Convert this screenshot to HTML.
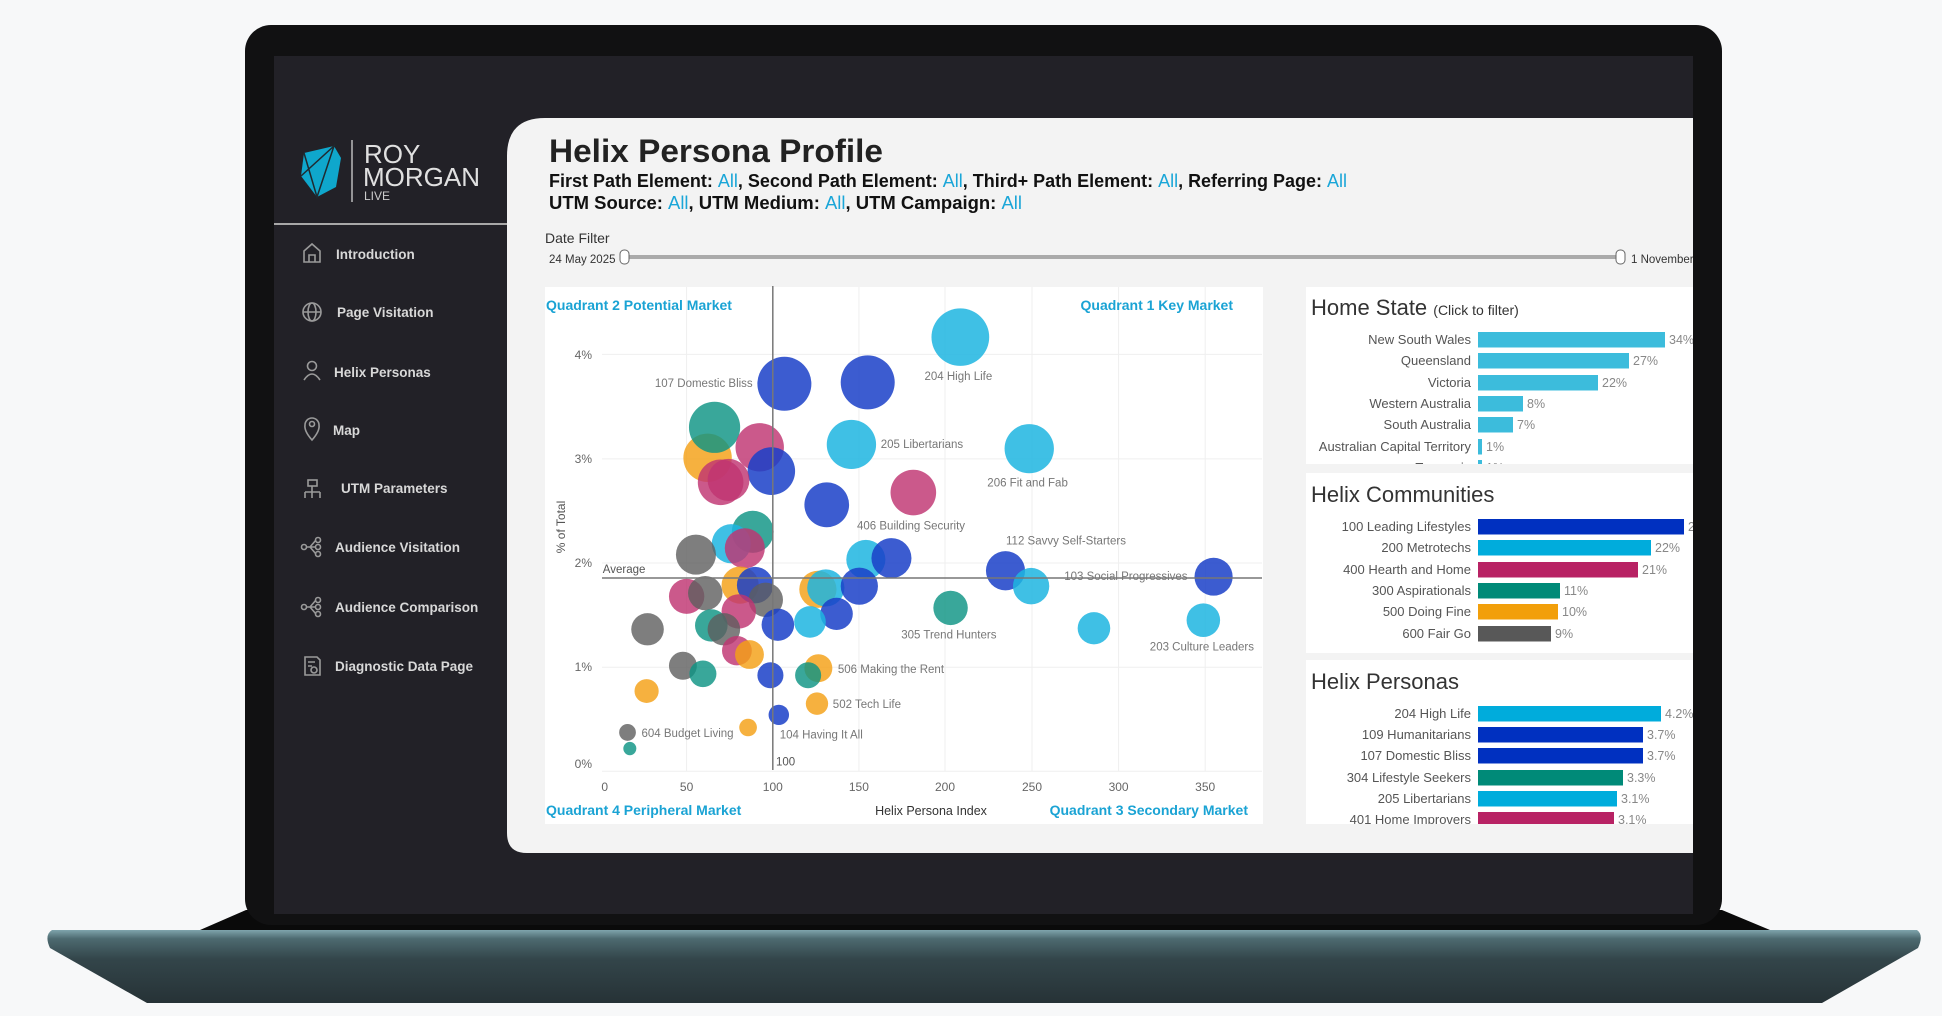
<!DOCTYPE html>
<html><head><meta charset="utf-8"><style>
html,body{margin:0;padding:0;background:#f7f8f9;}
svg{display:block;font-family:"Liberation Sans",sans-serif;}
.lb{fill:#1db5e0;fill-opacity:.85}.db{fill:#1a3fc8;fill-opacity:.85}.te{fill:#0d9484;fill-opacity:.82}
.pk{fill:#bf3472;fill-opacity:.82}.or{fill:#f4a015;fill-opacity:.82}.gr{fill:#5e5e5e;fill-opacity:.8}
</style></head><body>
<svg width="1942" height="1016" viewBox="0 0 1942 1016" xmlns="http://www.w3.org/2000/svg">
<defs>
<linearGradient id="base" x1="0" y1="0" x2="0" y2="1">
<stop offset="0" stop-color="#7fa4ac"/><stop offset="0.12" stop-color="#4d6a70"/><stop offset="0.4" stop-color="#33454a"/><stop offset="1" stop-color="#263236"/>
</linearGradient>
<clipPath id="scr"><rect x="274" y="56" width="1419" height="858"/></clipPath>
<clipPath id="c1"><rect x="1306" y="287" width="387" height="177"/></clipPath>
<clipPath id="c3"><rect x="1306" y="660" width="387" height="164"/></clipPath>
</defs>
<rect width="1942" height="1016" fill="#f7f8f9"/>
<polygon points="200,930 246,910 1722,910 1770,930" fill="#0a0a0a"/>
<path d="M52,930 L1917,930 Q1924,935 1918,948 L1822,1003 L147,1003 L50,948 Q44,935 52,930 Z" fill="url(#base)"/>
<rect x="245" y="25" width="1477" height="900" rx="26" fill="#111112"/>
<rect x="274" y="56" width="1419" height="858" fill="#222127"/>
<g clip-path="url(#scr)">
<polygon points="304,153 334,146 341,158 336,187 317,197 301,176" fill="#0fa7cc"/>
<polyline points="304,153 317,197 334,146 301,176" fill="none" stroke="#1f2a30" stroke-width="1.5"/>
<line x1="352" y1="140" x2="352" y2="202" stroke="#bbb" stroke-width="1.5"/>
<text x="364" y="163" font-size="26" fill="#e0e0e0">ROY</text>
<text x="363" y="186" font-size="26" fill="#e0e0e0">MORGAN</text>
<text x="364" y="200" font-size="12" fill="#ccc">LIVE</text>
<line x1="274" y1="224" x2="507" y2="224" stroke="#a8a8a8" stroke-width="2"/>
<g fill="none" stroke="#9a9a9a" stroke-width="1.6">
<path d="M304,262 L304,251 L312,244 L320,251 L320,262 Z M309,262 V255 H315 V262"/>
<circle cx="312" cy="312" r="9"/><ellipse cx="312" cy="312" rx="4" ry="9"/><line x1="303" y1="312" x2="321" y2="312"/>
<circle cx="312" cy="366" r="4.5"/><path d="M304,380 Q312,368 320,380"/>
<path d="M312,440 Q304,431 305,425 A7,7 0 1 1 319,425 Q320,431 312,440 Z"/><circle cx="312" cy="424" r="2.5"/>
<rect x="308" y="480" width="9" height="6"/><path d="M312,486 V492 M305,492 H320 M305,492 V498 M312,492 V498 M320,492 V498"/>
<circle cx="304" cy="547" r="2.5"/><circle cx="318" cy="540" r="2.5"/><circle cx="318" cy="547" r="2.5"/><circle cx="318" cy="554" r="2.5"/><path d="M306,547 H316 M310,547 L316,540 M310,547 L316,554"/>
<circle cx="304" cy="607" r="2.5"/><circle cx="318" cy="600" r="2.5"/><circle cx="318" cy="607" r="2.5"/><circle cx="318" cy="614" r="2.5"/><path d="M306,607 H316 M310,607 L316,600 M310,607 L316,614"/>
<path d="M305,657 H317 L320,660 V675 H305 Z"/><circle cx="314" cy="670" r="3"/><path d="M308,662 H315 M308,666 H312"/>
</g>
<g font-size="13.5" font-weight="bold" fill="#d8d8d8">
<text x="336" y="259">Introduction</text>
<text x="337" y="317">Page Visitation</text>
<text x="334" y="377">Helix Personas</text>
<text x="333" y="435">Map</text>
<text x="341" y="493">UTM Parameters</text>
<text x="335" y="552">Audience Visitation</text>
<text x="335" y="612">Audience Comparison</text>
<text x="335" y="671">Diagnostic Data Page</text>
</g>
<path d="M545,118 H1693 V853 H527 Q507,853 507,833 V156 Q507,118 545,118 Z" fill="#f3f3f3"/>
<text x="549" y="162" font-size="32" font-weight="bold" fill="#222" textLength="334" lengthAdjust="spacingAndGlyphs">Helix Persona Profile</text>
<g font-size="18" font-weight="bold" fill="#111">
<text x="549" y="187" textLength="798" lengthAdjust="spacingAndGlyphs">First Path Element: <tspan fill="#1aa6d8" font-weight="normal">All</tspan>, Second Path Element: <tspan fill="#1aa6d8" font-weight="normal">All</tspan>, Third+ Path Element: <tspan fill="#1aa6d8" font-weight="normal">All</tspan>, Referring Page: <tspan fill="#1aa6d8" font-weight="normal">All</tspan></text>
<text x="549" y="209" textLength="473" lengthAdjust="spacingAndGlyphs">UTM Source: <tspan fill="#1aa6d8" font-weight="normal">All</tspan>, UTM Medium: <tspan fill="#1aa6d8" font-weight="normal">All</tspan>, UTM Campaign: <tspan fill="#1aa6d8" font-weight="normal">All</tspan></text>
</g>
<text x="545" y="243" font-size="14" fill="#333">Date Filter</text>
<text x="549" y="263" font-size="11.5" fill="#333">24 May 2025</text>
<rect x="624" y="255" width="997" height="4" fill="#aaa"/>
<rect x="620" y="250" width="9" height="14" rx="4" fill="#fff" stroke="#666"/>
<rect x="1616" y="250" width="9" height="14" rx="4" fill="#fff" stroke="#666"/>
<text x="1631" y="263" font-size="11.5" fill="#333">1 November 2025</text>
<rect x="545" y="287" width="718" height="537" fill="#fff"/>
<g stroke="#efefef" stroke-width="1">
<line x1="602" y1="354.4" x2="1262" y2="354.4"/><line x1="602" y1="458.9" x2="1262" y2="458.9"/><line x1="602" y1="563" x2="1262" y2="563"/><line x1="602" y1="667.2" x2="1262" y2="667.2"/><line x1="602" y1="771.3" x2="1262" y2="771.3"/>
<line x1="686.6" y1="287" x2="686.6" y2="771"/><line x1="858.9" y1="287" x2="858.9" y2="771"/><line x1="945" y1="287" x2="945" y2="771"/><line x1="1032" y1="287" x2="1032" y2="771"/><line x1="1118.6" y1="287" x2="1118.6" y2="771"/><line x1="1205.2" y1="287" x2="1205.2" y2="771"/>
</g>
<g font-size="12" fill="#666" text-anchor="end">
<text x="592" y="359">4%</text><text x="592" y="463">3%</text><text x="592" y="567">2%</text><text x="592" y="671">1%</text><text x="592" y="768">0%</text>
</g>
<g font-size="12" fill="#666" text-anchor="middle">
<text x="604.7" y="791">0</text><text x="686.6" y="791">50</text><text x="772.8" y="791">100</text><text x="858.9" y="791">150</text><text x="945" y="791">200</text><text x="1032" y="791">250</text><text x="1118.6" y="791">300</text><text x="1205.2" y="791">350</text>
</g>
<text transform="translate(565,527) rotate(-90)" font-size="12" fill="#555" text-anchor="middle">% of Total</text>
<g transform="translate(540,280) scale(0.4655,0.3507)">
<ellipse class="lb" cx="903" cy="163" rx="62" ry="82"/>
<ellipse class="db" cx="525" cy="296" rx="58" ry="77"/>
<ellipse class="db" cx="704" cy="292" rx="58" ry="77"/>
<ellipse class="or" cx="360" cy="507" rx="52" ry="69"/>
<ellipse class="te" cx="375" cy="420" rx="55" ry="73"/>
<ellipse class="lb" cx="669" cy="469" rx="53" ry="70"/>
<ellipse class="lb" cx="1051" cy="481" rx="53" ry="70"/>
<ellipse class="pk" cx="472" cy="477" rx="52" ry="69"/>
<ellipse class="db" cx="497" cy="545" rx="51" ry="68"/>
<ellipse class="pk" cx="388" cy="577" rx="49" ry="65"/>
<ellipse class="pk" cx="802" cy="606" rx="49" ry="65"/>
<ellipse class="db" cx="616" cy="641" rx="48" ry="64"/>
<ellipse class="pk" cx="405" cy="570" rx="45" ry="60"/>
<ellipse class="te" cx="457" cy="718" rx="45" ry="60"/>
<ellipse class="lb" cx="411" cy="752" rx="42" ry="56"/>
<ellipse class="pk" cx="440" cy="765" rx="43" ry="57"/>
<ellipse class="gr" cx="335" cy="783" rx="43" ry="57"/>
<ellipse class="lb" cx="700" cy="797" rx="42" ry="56"/>
<ellipse class="db" cx="755" cy="793" rx="43" ry="57"/>
<ellipse class="db" cx="1000" cy="829" rx="42" ry="56"/>
<ellipse class="db" cx="1447" cy="846" rx="41" ry="54"/>
<ellipse class="or" cx="430" cy="870" rx="40" ry="53"/>
<ellipse class="or" cx="597" cy="882" rx="40" ry="53"/>
<ellipse class="lb" cx="614" cy="878" rx="40" ry="53"/>
<ellipse class="db" cx="686" cy="873" rx="40" ry="53"/>
<ellipse class="db" cx="462" cy="870" rx="39" ry="52"/>
<ellipse class="lb" cx="1055" cy="873" rx="39" ry="52"/>
<ellipse class="pk" cx="315" cy="902" rx="38" ry="50"/>
<ellipse class="gr" cx="355" cy="893" rx="37" ry="49"/>
<ellipse class="gr" cx="485" cy="912" rx="37" ry="49"/>
<ellipse class="pk" cx="427" cy="945" rx="37" ry="49"/>
<ellipse class="te" cx="882" cy="935" rx="37" ry="49"/>
<ellipse class="lb" cx="1425" cy="970" rx="36" ry="48"/>
<ellipse class="db" cx="637" cy="952" rx="35" ry="46"/>
<ellipse class="db" cx="511" cy="983" rx="35" ry="46"/>
<ellipse class="te" cx="368" cy="985" rx="35" ry="46"/>
<ellipse class="gr" cx="395" cy="996" rx="35" ry="46"/>
<ellipse class="gr" cx="231" cy="996" rx="35" ry="46"/>
<ellipse class="lb" cx="1190" cy="993" rx="35" ry="46"/>
<ellipse class="lb" cx="580" cy="975" rx="34" ry="45"/>
<ellipse class="pk" cx="423" cy="1057" rx="32" ry="42"/>
<ellipse class="or" cx="450" cy="1068" rx="31" ry="41"/>
<ellipse class="gr" cx="307" cy="1100" rx="30" ry="40"/>
<ellipse class="or" cx="598" cy="1107" rx="30" ry="40"/>
<ellipse class="te" cx="350" cy="1123" rx="29" ry="38"/>
<ellipse class="db" cx="495" cy="1127" rx="28" ry="37"/>
<ellipse class="te" cx="576" cy="1127" rx="28" ry="37"/>
<ellipse class="or" cx="229" cy="1172" rx="26" ry="34"/>
<ellipse class="or" cx="595" cy="1208" rx="24" ry="32"/>
<ellipse class="db" cx="513" cy="1240" rx="22" ry="29"/>
<ellipse class="or" cx="447" cy="1276" rx="19" ry="25"/>
<ellipse class="gr" cx="188" cy="1290" rx="18" ry="24"/>
<ellipse class="te" cx="193" cy="1336" rx="14" ry="19"/>
</g>
<line x1="772.8" y1="286" x2="772.8" y2="770" stroke="#777" stroke-width="1.5"/>
<line x1="602" y1="578" x2="1262" y2="578" stroke="#777" stroke-width="1.5"/>
<g font-size="11.5" fill="#777">
<text x="924.5" y="380">204 High Life</text>
<text x="752.7" y="387" text-anchor="end">107 Domestic Bliss</text>
<text x="880.7" y="448">205 Libertarians</text>
<text x="987.3" y="486.6">206 Fit and Fab</text>
<text x="857" y="529.4">406 Building Security</text>
<text x="1006" y="544.4">112 Savvy Self-Starters</text>
<text x="1064.2" y="579.8">103 Social Progressives</text>
<text x="901.2" y="638.4">305 Trend Hunters</text>
<text x="1149.8" y="650.3">203 Culture Leaders</text>
<text x="837.9" y="672.8">506 Making the Rent</text>
<text x="832.8" y="707.9">502 Tech Life</text>
<text x="641.5" y="737">604 Budget Living</text>
<text x="779.7" y="738.7">104 Having It All</text>
<text x="776" y="765.4" fill="#555">100</text>
<text x="602.8" y="573.2" fill="#555">Average</text>
</g>
<g font-size="14" font-weight="bold" fill="#1aa3d4">
<text x="546" y="310">Quadrant 2 Potential Market</text>
<text x="1233" y="310" text-anchor="end">Quadrant 1 Key Market</text>
<text x="546" y="815">Quadrant 4 Peripheral Market</text>
<text x="1248" y="815" text-anchor="end">Quadrant 3 Secondary Market</text>
</g>
<text x="931" y="815" font-size="12.5" fill="#333" text-anchor="middle">Helix Persona Index</text>
<rect x="1306" y="287" width="387" height="177" fill="#fff"/>
<g clip-path="url(#c1)">
<text x="1311" y="315" font-size="22" fill="#333">Home State <tspan font-size="14">(Click to filter)</tspan></text>
<g fill="#3cbcdc">
<rect x="1478" y="332" width="187" height="15.5"/><rect x="1478" y="353" width="151" height="15.5"/><rect x="1478" y="375" width="120" height="15.5"/>
<rect x="1478" y="396" width="45" height="15.5"/><rect x="1478" y="417" width="35" height="15.5"/><rect x="1478" y="439" width="4" height="15.5"/><rect x="1478" y="460" width="4" height="15.5"/>
</g>
<g font-size="13" fill="#555" text-anchor="end">
<text x="1471" y="344">New South Wales</text><text x="1471" y="365">Queensland</text><text x="1471" y="387">Victoria</text><text x="1471" y="408">Western Australia</text><text x="1471" y="429">South Australia</text><text x="1471" y="451">Australian Capital Territory</text><text x="1471" y="472">Tasmania</text>
</g>
<g font-size="12.5" fill="#888">
<text x="1669" y="344">34%</text><text x="1633" y="365">27%</text><text x="1602" y="387">22%</text><text x="1527" y="408">8%</text><text x="1517" y="429">7%</text><text x="1486" y="451">1%</text><text x="1486" y="472">1%</text>
</g>
</g>
<rect x="1306" y="473" width="387" height="180" fill="#fff"/>
<text x="1311" y="502" font-size="22" fill="#333">Helix Communities</text>
<rect x="1478" y="519" width="206" height="15.5" fill="#0030c0"/>
<rect x="1478" y="540" width="173" height="15.5" fill="#00acdc"/>
<rect x="1478" y="562" width="160" height="15.5" fill="#b82264"/>
<rect x="1478" y="583" width="82" height="15.5" fill="#008a78"/>
<rect x="1478" y="604" width="80" height="15.5" fill="#f29f0a"/>
<rect x="1478" y="626" width="73" height="15.5" fill="#585858"/>
<g font-size="13" fill="#555" text-anchor="end">
<text x="1471" y="531">100 Leading Lifestyles</text><text x="1471" y="552">200 Metrotechs</text><text x="1471" y="574">400 Hearth and Home</text><text x="1471" y="595">300 Aspirationals</text><text x="1471" y="616">500 Doing Fine</text><text x="1471" y="638">600 Fair Go</text>
</g>
<g font-size="12.5" fill="#888">
<text x="1688" y="531">24%</text><text x="1655" y="552">22%</text><text x="1642" y="574">21%</text><text x="1564" y="595">11%</text><text x="1562" y="616">10%</text><text x="1555" y="638">9%</text>
</g>
<rect x="1306" y="660" width="387" height="164" fill="#fff"/>
<g clip-path="url(#c3)">
<text x="1311" y="689" font-size="22" fill="#333">Helix Personas</text>
<rect x="1478" y="706" width="183" height="15.5" fill="#00acdc"/>
<rect x="1478" y="727" width="165" height="15.5" fill="#0030c0"/>
<rect x="1478" y="748" width="165" height="15.5" fill="#0030c0"/>
<rect x="1478" y="770" width="145" height="15.5" fill="#008a78"/>
<rect x="1478" y="791" width="139" height="15.5" fill="#00acdc"/>
<rect x="1478" y="812" width="136" height="15.5" fill="#b82264"/>
<g font-size="13" fill="#555" text-anchor="end">
<text x="1471" y="718">204 High Life</text><text x="1471" y="739">109 Humanitarians</text><text x="1471" y="760">107 Domestic Bliss</text><text x="1471" y="782">304 Lifestyle Seekers</text><text x="1471" y="803">205 Libertarians</text><text x="1471" y="824">401 Home Improvers</text>
</g>
<g font-size="12.5" fill="#888">
<text x="1665" y="718">4.2%</text><text x="1647" y="739">3.7%</text><text x="1647" y="760">3.7%</text><text x="1627" y="782">3.3%</text><text x="1621" y="803">3.1%</text><text x="1618" y="824">3.1%</text>
</g>
</g>
</g>
</svg>
</body></html>
